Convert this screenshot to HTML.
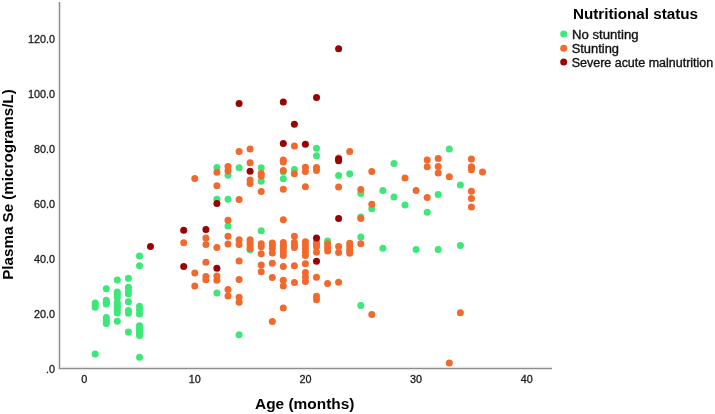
<!DOCTYPE html>
<html><head><meta charset="utf-8">
<style>
html,body{margin:0;padding:0;background:#fff;}
body{width:715px;height:414px;overflow:hidden;}
svg{display:block;will-change:transform;}
text{font-family:"Liberation Sans",sans-serif;}
.tk{font-size:10.8px;fill:#1a1a1a;stroke:#1a1a1a;stroke-width:0.3px;}
.ttl{font-size:14.5px;font-weight:bold;fill:#000;}
.lg{font-size:12px;fill:#111;stroke:#111;stroke-width:0.35px;}
</style></head>
<body>
<svg width="715" height="414" viewBox="0 0 715 414">
<rect width="715" height="414" fill="#fff"/>
<g shape-rendering="crispEdges">
<rect x="57" y="2" width="5" height="369" fill="#fbfbfb"/>
<rect x="57" y="366" width="495" height="5" fill="#fbfbfb"/>
<rect x="58" y="2" width="3" height="368" fill="#e3e3e3"/>
<rect x="58" y="367" width="494" height="3" fill="#e3e3e3"/>
<rect x="59" y="2" width="1" height="367" fill="#8e8e8e"/>
<rect x="59" y="368" width="493" height="1" fill="#8e8e8e"/>
</g>
<text x="55.0" y="372.60" text-anchor="end" class="tk">.0</text><text x="55.0" y="317.60" text-anchor="end" class="tk">20.0</text><text x="55.0" y="262.60" text-anchor="end" class="tk">40.0</text><text x="55.0" y="207.60" text-anchor="end" class="tk">60.0</text><text x="55.0" y="152.60" text-anchor="end" class="tk">80.0</text><text x="55.0" y="97.60" text-anchor="end" class="tk">100.0</text><text x="55.0" y="42.60" text-anchor="end" class="tk">120.0</text>
<text x="84.15" y="382.6" text-anchor="middle" class="tk">0</text><text x="194.80" y="382.6" text-anchor="middle" class="tk">10</text><text x="305.45" y="382.6" text-anchor="middle" class="tk">20</text><text x="416.10" y="382.6" text-anchor="middle" class="tk">30</text><text x="526.75" y="382.6" text-anchor="middle" class="tk">40</text>
<text x="255.0" y="408.8" textLength="99.5" lengthAdjust="spacingAndGlyphs" class="ttl">Age (months)</text>
<text transform="translate(13.0,279.8) rotate(-90)" x="0" y="0" textLength="190.5" lengthAdjust="spacingAndGlyphs" class="ttl">Plasma Se (micrograms/L)</text>
<g>
<circle cx="95.2" cy="303.0" r="3.5" fill="#3de779"/><circle cx="95.2" cy="305.0" r="3.5" fill="#3de779"/><circle cx="95.2" cy="307.3" r="3.5" fill="#3de779"/><circle cx="95.2" cy="353.9" r="3.5" fill="#3de779"/><circle cx="106.3" cy="288.7" r="3.5" fill="#3de779"/><circle cx="106.3" cy="300.3" r="3.5" fill="#3de779"/><circle cx="106.3" cy="302.2" r="3.5" fill="#3de779"/><circle cx="106.3" cy="304.0" r="3.5" fill="#3de779"/><circle cx="106.3" cy="317.5" r="3.5" fill="#3de779"/><circle cx="106.3" cy="320.5" r="3.5" fill="#3de779"/><circle cx="106.3" cy="323.5" r="3.5" fill="#3de779"/><circle cx="117.3" cy="280.0" r="3.5" fill="#3de779"/><circle cx="117.3" cy="292.0" r="3.5" fill="#3de779"/><circle cx="117.3" cy="294.5" r="3.5" fill="#3de779"/><circle cx="117.3" cy="297.2" r="3.5" fill="#3de779"/><circle cx="117.3" cy="302.6" r="3.5" fill="#3de779"/><circle cx="117.3" cy="305.0" r="3.5" fill="#3de779"/><circle cx="117.3" cy="307.6" r="3.5" fill="#3de779"/><circle cx="117.3" cy="310.2" r="3.5" fill="#3de779"/><circle cx="117.3" cy="313.0" r="3.5" fill="#3de779"/><circle cx="117.3" cy="321.3" r="3.5" fill="#3de779"/><circle cx="128.4" cy="278.2" r="3.5" fill="#3de779"/><circle cx="128.4" cy="287.2" r="3.5" fill="#3de779"/><circle cx="128.4" cy="290.5" r="3.5" fill="#3de779"/><circle cx="128.4" cy="293.8" r="3.5" fill="#3de779"/><circle cx="128.4" cy="301.8" r="3.5" fill="#3de779"/><circle cx="128.4" cy="310.5" r="3.5" fill="#3de779"/><circle cx="128.4" cy="313.2" r="3.5" fill="#3de779"/><circle cx="128.4" cy="332.0" r="3.5" fill="#3de779"/><circle cx="139.5" cy="256.0" r="3.5" fill="#3de779"/><circle cx="139.5" cy="265.8" r="3.5" fill="#3de779"/><circle cx="139.5" cy="306.2" r="3.5" fill="#3de779"/><circle cx="139.5" cy="310.0" r="3.5" fill="#3de779"/><circle cx="139.5" cy="313.9" r="3.5" fill="#3de779"/><circle cx="139.5" cy="325.7" r="3.5" fill="#3de779"/><circle cx="139.5" cy="328.2" r="3.5" fill="#3de779"/><circle cx="139.5" cy="330.7" r="3.5" fill="#3de779"/><circle cx="139.5" cy="333.2" r="3.5" fill="#3de779"/><circle cx="139.5" cy="335.6" r="3.5" fill="#3de779"/><circle cx="139.5" cy="357.3" r="3.5" fill="#3de779"/><circle cx="216.9" cy="167.6" r="3.5" fill="#3de779"/><circle cx="216.9" cy="199.3" r="3.5" fill="#3de779"/><circle cx="216.9" cy="293.0" r="3.5" fill="#3de779"/><circle cx="228.0" cy="175.2" r="3.5" fill="#3de779"/><circle cx="228.0" cy="199.3" r="3.5" fill="#3de779"/><circle cx="228.0" cy="225.9" r="3.5" fill="#3de779"/><circle cx="239.1" cy="167.8" r="3.5" fill="#3de779"/><circle cx="239.1" cy="334.7" r="3.5" fill="#3de779"/><circle cx="250.1" cy="249.8" r="3.5" fill="#3de779"/><circle cx="261.2" cy="167.8" r="3.5" fill="#3de779"/><circle cx="261.2" cy="181.3" r="3.5" fill="#3de779"/><circle cx="261.2" cy="230.8" r="3.5" fill="#3de779"/><circle cx="283.3" cy="171.8" r="3.5" fill="#3de779"/><circle cx="283.3" cy="178.8" r="3.5" fill="#3de779"/><circle cx="283.3" cy="246.0" r="3.5" fill="#3de779"/><circle cx="294.4" cy="169.6" r="3.5" fill="#3de779"/><circle cx="316.5" cy="148.2" r="3.5" fill="#3de779"/><circle cx="316.5" cy="155.8" r="3.5" fill="#3de779"/><circle cx="327.6" cy="240.9" r="3.5" fill="#3de779"/><circle cx="338.6" cy="175.4" r="3.5" fill="#3de779"/><circle cx="349.7" cy="173.7" r="3.5" fill="#3de779"/><circle cx="349.7" cy="251.1" r="3.5" fill="#3de779"/><circle cx="360.8" cy="193.4" r="3.5" fill="#3de779"/><circle cx="360.8" cy="216.9" r="3.5" fill="#3de779"/><circle cx="360.8" cy="237.0" r="3.5" fill="#3de779"/><circle cx="360.8" cy="305.6" r="3.5" fill="#3de779"/><circle cx="371.8" cy="208.7" r="3.5" fill="#3de779"/><circle cx="382.9" cy="190.4" r="3.5" fill="#3de779"/><circle cx="382.9" cy="248.3" r="3.5" fill="#3de779"/><circle cx="394.0" cy="163.5" r="3.5" fill="#3de779"/><circle cx="394.0" cy="197.1" r="3.5" fill="#3de779"/><circle cx="405.0" cy="205.1" r="3.5" fill="#3de779"/><circle cx="416.1" cy="249.6" r="3.5" fill="#3de779"/><circle cx="427.2" cy="212.3" r="3.5" fill="#3de779"/><circle cx="438.2" cy="194.4" r="3.5" fill="#3de779"/><circle cx="438.2" cy="249.6" r="3.5" fill="#3de779"/><circle cx="449.3" cy="149.1" r="3.5" fill="#3de779"/><circle cx="460.4" cy="185.0" r="3.5" fill="#3de779"/><circle cx="460.4" cy="245.5" r="3.5" fill="#3de779"/><circle cx="471.4" cy="167.5" r="3.5" fill="#3de779"/><circle cx="183.7" cy="242.7" r="3.5" fill="#f2692d"/><circle cx="194.8" cy="178.6" r="3.5" fill="#f2692d"/><circle cx="194.8" cy="273.0" r="3.5" fill="#f2692d"/><circle cx="194.8" cy="285.9" r="3.5" fill="#f2692d"/><circle cx="205.9" cy="238.0" r="3.5" fill="#f2692d"/><circle cx="205.9" cy="244.6" r="3.5" fill="#f2692d"/><circle cx="205.9" cy="262.3" r="3.5" fill="#f2692d"/><circle cx="205.9" cy="276.5" r="3.5" fill="#f2692d"/><circle cx="205.9" cy="279.8" r="3.5" fill="#f2692d"/><circle cx="216.9" cy="172.3" r="3.5" fill="#f2692d"/><circle cx="216.9" cy="185.8" r="3.5" fill="#f2692d"/><circle cx="216.9" cy="247.5" r="3.5" fill="#f2692d"/><circle cx="216.9" cy="275.9" r="3.5" fill="#f2692d"/><circle cx="216.9" cy="280.3" r="3.5" fill="#f2692d"/><circle cx="228.0" cy="166.4" r="3.5" fill="#f2692d"/><circle cx="228.0" cy="170.9" r="3.5" fill="#f2692d"/><circle cx="228.0" cy="220.2" r="3.5" fill="#f2692d"/><circle cx="228.0" cy="236.2" r="3.5" fill="#f2692d"/><circle cx="228.0" cy="244.0" r="3.5" fill="#f2692d"/><circle cx="228.0" cy="289.5" r="3.5" fill="#f2692d"/><circle cx="228.0" cy="296.0" r="3.5" fill="#f2692d"/><circle cx="239.1" cy="151.6" r="3.5" fill="#f2692d"/><circle cx="239.1" cy="199.5" r="3.5" fill="#f2692d"/><circle cx="239.1" cy="239.8" r="3.5" fill="#f2692d"/><circle cx="239.1" cy="244.5" r="3.5" fill="#f2692d"/><circle cx="239.1" cy="261.0" r="3.5" fill="#f2692d"/><circle cx="239.1" cy="279.5" r="3.5" fill="#f2692d"/><circle cx="239.1" cy="297.2" r="3.5" fill="#f2692d"/><circle cx="239.1" cy="302.2" r="3.5" fill="#f2692d"/><circle cx="250.1" cy="149.1" r="3.5" fill="#f2692d"/><circle cx="250.1" cy="162.8" r="3.5" fill="#f2692d"/><circle cx="250.1" cy="179.9" r="3.5" fill="#f2692d"/><circle cx="250.1" cy="183.5" r="3.5" fill="#f2692d"/><circle cx="250.1" cy="239.8" r="3.5" fill="#f2692d"/><circle cx="250.1" cy="242.8" r="3.5" fill="#f2692d"/><circle cx="250.1" cy="245.8" r="3.5" fill="#f2692d"/><circle cx="250.1" cy="248.6" r="3.5" fill="#f2692d"/><circle cx="261.2" cy="173.6" r="3.5" fill="#f2692d"/><circle cx="261.2" cy="176.0" r="3.5" fill="#f2692d"/><circle cx="261.2" cy="191.5" r="3.5" fill="#f2692d"/><circle cx="261.2" cy="243.8" r="3.5" fill="#f2692d"/><circle cx="261.2" cy="246.7" r="3.5" fill="#f2692d"/><circle cx="261.2" cy="253.8" r="3.5" fill="#f2692d"/><circle cx="261.2" cy="265.0" r="3.5" fill="#f2692d"/><circle cx="261.2" cy="271.8" r="3.5" fill="#f2692d"/><circle cx="272.3" cy="243.1" r="3.5" fill="#f2692d"/><circle cx="272.3" cy="245.6" r="3.5" fill="#f2692d"/><circle cx="272.3" cy="248.2" r="3.5" fill="#f2692d"/><circle cx="272.3" cy="253.0" r="3.5" fill="#f2692d"/><circle cx="272.3" cy="263.2" r="3.5" fill="#f2692d"/><circle cx="272.3" cy="277.6" r="3.5" fill="#f2692d"/><circle cx="272.3" cy="321.6" r="3.5" fill="#f2692d"/><circle cx="283.3" cy="160.0" r="3.5" fill="#f2692d"/><circle cx="283.3" cy="162.0" r="3.5" fill="#f2692d"/><circle cx="283.3" cy="170.4" r="3.5" fill="#f2692d"/><circle cx="283.3" cy="189.2" r="3.5" fill="#f2692d"/><circle cx="283.3" cy="219.7" r="3.5" fill="#f2692d"/><circle cx="283.3" cy="242.4" r="3.5" fill="#f2692d"/><circle cx="283.3" cy="245.5" r="3.5" fill="#f2692d"/><circle cx="283.3" cy="248.5" r="3.5" fill="#f2692d"/><circle cx="283.3" cy="252.0" r="3.5" fill="#f2692d"/><circle cx="283.3" cy="255.4" r="3.5" fill="#f2692d"/><circle cx="283.3" cy="266.6" r="3.5" fill="#f2692d"/><circle cx="283.3" cy="280.2" r="3.5" fill="#f2692d"/><circle cx="283.3" cy="286.0" r="3.5" fill="#f2692d"/><circle cx="283.3" cy="308.0" r="3.5" fill="#f2692d"/><circle cx="294.4" cy="146.0" r="3.5" fill="#f2692d"/><circle cx="294.4" cy="173.7" r="3.5" fill="#f2692d"/><circle cx="294.4" cy="236.2" r="3.5" fill="#f2692d"/><circle cx="294.4" cy="242.4" r="3.5" fill="#f2692d"/><circle cx="294.4" cy="245.0" r="3.5" fill="#f2692d"/><circle cx="294.4" cy="247.5" r="3.5" fill="#f2692d"/><circle cx="294.4" cy="265.8" r="3.5" fill="#f2692d"/><circle cx="294.4" cy="282.5" r="3.5" fill="#f2692d"/><circle cx="305.4" cy="167.3" r="3.5" fill="#f2692d"/><circle cx="305.4" cy="171.5" r="3.5" fill="#f2692d"/><circle cx="305.4" cy="186.8" r="3.5" fill="#f2692d"/><circle cx="305.4" cy="241.7" r="3.5" fill="#f2692d"/><circle cx="305.4" cy="245.0" r="3.5" fill="#f2692d"/><circle cx="305.4" cy="248.5" r="3.5" fill="#f2692d"/><circle cx="305.4" cy="252.0" r="3.5" fill="#f2692d"/><circle cx="305.4" cy="255.4" r="3.5" fill="#f2692d"/><circle cx="305.4" cy="263.8" r="3.5" fill="#f2692d"/><circle cx="305.4" cy="272.5" r="3.5" fill="#f2692d"/><circle cx="305.4" cy="277.0" r="3.5" fill="#f2692d"/><circle cx="305.4" cy="281.6" r="3.5" fill="#f2692d"/><circle cx="316.5" cy="167.4" r="3.5" fill="#f2692d"/><circle cx="316.5" cy="170.6" r="3.5" fill="#f2692d"/><circle cx="316.5" cy="242.4" r="3.5" fill="#f2692d"/><circle cx="316.5" cy="244.5" r="3.5" fill="#f2692d"/><circle cx="316.5" cy="246.7" r="3.5" fill="#f2692d"/><circle cx="316.5" cy="252.2" r="3.5" fill="#f2692d"/><circle cx="316.5" cy="277.2" r="3.5" fill="#f2692d"/><circle cx="316.5" cy="296.2" r="3.5" fill="#f2692d"/><circle cx="316.5" cy="299.8" r="3.5" fill="#f2692d"/><circle cx="327.6" cy="243.8" r="3.5" fill="#f2692d"/><circle cx="327.6" cy="247.5" r="3.5" fill="#f2692d"/><circle cx="327.6" cy="251.1" r="3.5" fill="#f2692d"/><circle cx="327.6" cy="283.4" r="3.5" fill="#f2692d"/><circle cx="338.6" cy="158.0" r="3.5" fill="#f2692d"/><circle cx="338.6" cy="187.0" r="3.5" fill="#f2692d"/><circle cx="338.6" cy="246.4" r="3.5" fill="#f2692d"/><circle cx="338.6" cy="252.5" r="3.5" fill="#f2692d"/><circle cx="338.6" cy="282.3" r="3.5" fill="#f2692d"/><circle cx="349.7" cy="151.4" r="3.5" fill="#f2692d"/><circle cx="349.7" cy="243.2" r="3.5" fill="#f2692d"/><circle cx="349.7" cy="246.5" r="3.5" fill="#f2692d"/><circle cx="349.7" cy="250.0" r="3.5" fill="#f2692d"/><circle cx="349.7" cy="253.3" r="3.5" fill="#f2692d"/><circle cx="360.8" cy="189.5" r="3.5" fill="#f2692d"/><circle cx="360.8" cy="218.6" r="3.5" fill="#f2692d"/><circle cx="360.8" cy="243.8" r="3.5" fill="#f2692d"/><circle cx="371.8" cy="171.6" r="3.5" fill="#f2692d"/><circle cx="371.8" cy="204.2" r="3.5" fill="#f2692d"/><circle cx="371.8" cy="314.5" r="3.5" fill="#f2692d"/><circle cx="405.0" cy="178.1" r="3.5" fill="#f2692d"/><circle cx="416.1" cy="190.5" r="3.5" fill="#f2692d"/><circle cx="427.2" cy="160.0" r="3.5" fill="#f2692d"/><circle cx="427.2" cy="166.8" r="3.5" fill="#f2692d"/><circle cx="427.2" cy="197.5" r="3.5" fill="#f2692d"/><circle cx="438.2" cy="158.4" r="3.5" fill="#f2692d"/><circle cx="438.2" cy="166.5" r="3.5" fill="#f2692d"/><circle cx="438.2" cy="173.0" r="3.5" fill="#f2692d"/><circle cx="449.3" cy="176.7" r="3.5" fill="#f2692d"/><circle cx="449.3" cy="363.1" r="3.5" fill="#f2692d"/><circle cx="460.4" cy="312.8" r="3.5" fill="#f2692d"/><circle cx="471.4" cy="159.1" r="3.5" fill="#f2692d"/><circle cx="471.4" cy="166.8" r="3.5" fill="#f2692d"/><circle cx="471.4" cy="169.7" r="3.5" fill="#f2692d"/><circle cx="471.4" cy="191.3" r="3.5" fill="#f2692d"/><circle cx="471.4" cy="198.5" r="3.5" fill="#f2692d"/><circle cx="471.4" cy="207.0" r="3.5" fill="#f2692d"/><circle cx="482.5" cy="171.9" r="3.5" fill="#f2692d"/><circle cx="150.5" cy="246.5" r="3.5" fill="#980303"/><circle cx="183.7" cy="230.3" r="3.5" fill="#980303"/><circle cx="183.7" cy="266.5" r="3.5" fill="#980303"/><circle cx="205.9" cy="229.6" r="3.5" fill="#980303"/><circle cx="216.9" cy="203.5" r="3.5" fill="#980303"/><circle cx="216.9" cy="268.2" r="3.5" fill="#980303"/><circle cx="239.1" cy="103.5" r="3.5" fill="#980303"/><circle cx="250.1" cy="171.3" r="3.5" fill="#980303"/><circle cx="283.3" cy="102.0" r="3.5" fill="#980303"/><circle cx="283.3" cy="143.6" r="3.5" fill="#980303"/><circle cx="294.4" cy="124.2" r="3.5" fill="#980303"/><circle cx="305.4" cy="144.2" r="3.5" fill="#980303"/><circle cx="316.5" cy="97.6" r="3.5" fill="#980303"/><circle cx="316.5" cy="238.0" r="3.5" fill="#980303"/><circle cx="316.5" cy="261.2" r="3.5" fill="#980303"/><circle cx="338.6" cy="48.7" r="3.5" fill="#980303"/><circle cx="338.6" cy="159.1" r="3.5" fill="#980303"/><circle cx="338.6" cy="160.7" r="3.5" fill="#980303"/><circle cx="338.6" cy="218.6" r="3.5" fill="#980303"/>
</g>
<text x="573.0" y="18.9" textLength="125.0" lengthAdjust="spacingAndGlyphs" class="ttl">Nutritional status</text>
<circle cx="563.7" cy="34.0" r="3.5" fill="#3de779"/>
<circle cx="563.7" cy="48.2" r="3.5" fill="#f2692d"/>
<circle cx="563.7" cy="62.0" r="3.5" fill="#980303"/>
<text x="572.0" y="38.7" textLength="66.5" lengthAdjust="spacingAndGlyphs" class="lg">No stunting</text>
<text x="571.7" y="52.7" textLength="47.3" lengthAdjust="spacingAndGlyphs" class="lg">Stunting</text>
<text x="571.7" y="66.8" textLength="141.5" lengthAdjust="spacingAndGlyphs" class="lg">Severe acute malnutrition</text>
</svg>
</body></html>
